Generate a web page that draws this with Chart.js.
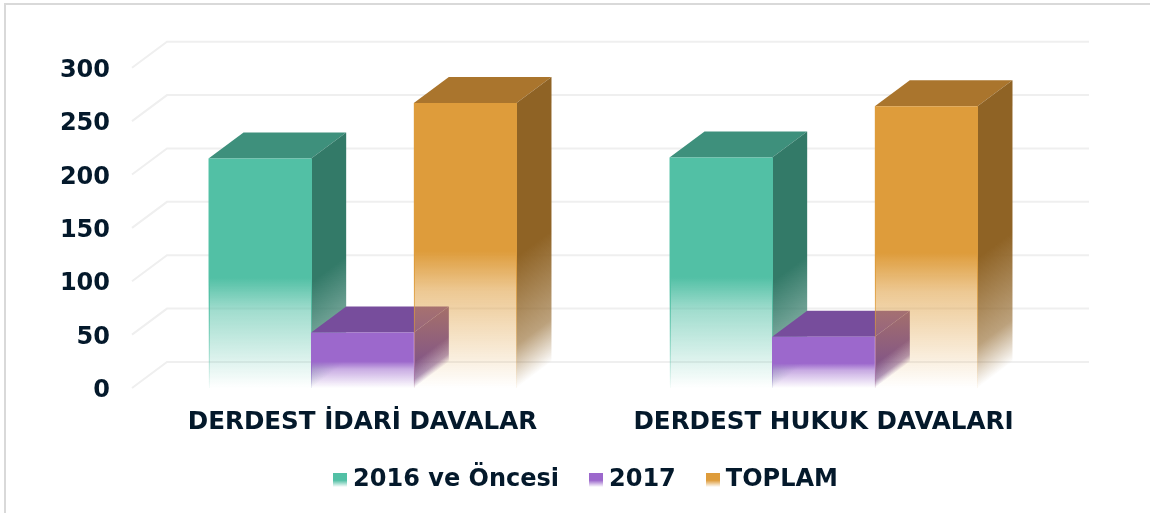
<!DOCTYPE html>
<html>
<head>
<meta charset="utf-8">
<script src="https://cdn.jsdelivr.net/npm/chart.js@4"></script>
<style>
  html, body { margin: 0; padding: 0; background: #fff; }
  #wrap { position: relative; width: 1150px; height: 513px; }
  #frame { position: absolute; left: 4px; top: 3px; width: 1150px; height: 600px; border: 2px solid #d9d9d9; box-sizing: border-box; }
  #clip { position: absolute; left: 0; top: 0; width: 1150px; height: 513px; overflow: hidden; }
  canvas { position: absolute; left: 0; top: 0; }
</style>
</head>
<body>
<div id="wrap">
  <div id="clip"><div id="frame"></div></div>
  <canvas id="barChart" width="1150" height="513"></canvas>
</div>
<script>
const categories = ['DERDEST İDARİ DAVALAR', 'DERDEST HUKUK DAVALARI'];
const seriesNames = ['2016 ve Öncesi', '2017', 'TOPLAM'];
const older = [215, 216];
const y2017 = [52, 48];
const total = [267, 264];

const frontColors = ['82,192,165', '156,104,204', '222,156,59'];
const topColors = ['#3e907c', '#774d9c', '#aa752d'];
const sideColors = ['51,122,104', '117,75,146', '143,99,37'];

const depthX = 35, depthY = 26;
const textColor = '#04192b';

function frontGradient(ctx, i, stops) {
  const y = ctx.chart.scales.y;
  if (!y || ctx.raw === undefined) return 'rgb(' + frontColors[i] + ')';
  const g = ctx.chart.ctx.createLinearGradient(0, y.getPixelForValue(ctx.raw), 0, y.getPixelForValue(0));
  stops.forEach(s => g.addColorStop(s[0], 'rgba(' + frontColors[i] + ',' + s[1] + ')'));
  return g;
}
const fillStops = [[0, 1], [0.52, 1], [0.66, 0.55], [1, 0]];

function swatch(i) {
  const c = document.createElement('canvas');
  c.width = 14; c.height = 14;
  const x = c.getContext('2d');
  const g = x.createLinearGradient(0, 0, 0, 14);
  g.addColorStop(0, 'rgba(' + frontColors[i] + ',1)');
  g.addColorStop(0.52, 'rgba(' + frontColors[i] + ',1)');
  g.addColorStop(1, 'rgba(' + frontColors[i] + ',0)');
  x.fillStyle = g;
  x.fillRect(0, 0, 14, 14);
  return c;
}

// the fake 3d: back wall lines, then the top and side of every bar
const depth3d = {
  id: 'depth3d',
  beforeDatasetsDraw(chart) {
    const { ctx, chartArea: { left, right }, scales: { y } } = chart;
    ctx.save();
    ctx.strokeStyle = '#efefef';
    ctx.lineWidth = 2;
    y.ticks.forEach(t => {
      const py = y.getPixelForValue(t.value);
      ctx.beginPath();
      ctx.moveTo(left, py);
      ctx.lineTo(left + depthX, py - depthY);
      ctx.lineTo(right + depthX, py - depthY);
      ctx.stroke();
    });
    [0, 1, 2].forEach(i => {
      chart.getDatasetMeta(i).data.forEach(bar => {
        const l = bar.x - bar.width / 2, r = bar.x + bar.width / 2;
        ctx.fillStyle = topColors[i];
        ctx.beginPath();
        ctx.moveTo(l, bar.y);
        ctx.lineTo(l + depthX, bar.y - depthY);
        ctx.lineTo(r + depthX, bar.y - depthY);
        ctx.lineTo(r, bar.y);
        ctx.closePath();
        ctx.fill();

        // fade runs along the depth direction, so the edge looks slanted
        const h = bar.base - bar.y;
        const n = Math.hypot(depthX, depthY);
        const len = h * depthX / n;
        const gx = depthY / n * len, gy = depthX / n * len;
        const g = ctx.createLinearGradient(r, bar.y, r + gx, bar.y + gy);
        g.addColorStop(0, 'rgba(' + sideColors[i] + ',1)');
        g.addColorStop(0.54, 'rgba(' + sideColors[i] + ',1)');
        g.addColorStop(0.85, 'rgba(' + sideColors[i] + ',0.6)');
        g.addColorStop(1, 'rgba(' + sideColors[i] + ',0)');
        ctx.fillStyle = g;
        ctx.beginPath();
        ctx.moveTo(r, bar.y);
        ctx.lineTo(r + depthX, bar.y - depthY);
        ctx.lineTo(r + depthX, bar.base - depthY);
        ctx.lineTo(r, bar.base);
        ctx.closePath();
        ctx.fill();
      });
    });
    ctx.restore();
  },
  afterDatasetsDraw(chart) {
    // thin edge down both sides of the front face, stays visible in the faded part
    const { ctx } = chart;
    ctx.save();
    ctx.lineWidth = 1;
    [0, 1, 2].forEach(i => {
      chart.getDatasetMeta(i).data.forEach(bar => {
        const g = ctx.createLinearGradient(0, bar.y, 0, bar.base);
        g.addColorStop(0, 'rgba(' + frontColors[i] + ',1)');
        g.addColorStop(0.55, 'rgba(' + frontColors[i] + ',1)');
        g.addColorStop(1, 'rgba(' + frontColors[i] + ',0.05)');
        ctx.strokeStyle = g;
        [bar.x - bar.width / 2, bar.x + bar.width / 2].forEach(ex => {
          ctx.beginPath();
          ctx.moveTo(Math.round(ex) + 0.5, bar.y);
          ctx.lineTo(Math.round(ex) + 0.5, bar.base);
          ctx.stroke();
        });
      });
    });
    ctx.restore();
  },
  afterLayout(chart) {
    // legend is centred under the plot, not the canvas; wide item gaps come with a big row padding
    chart.legend.left = 123;
    chart.legend.top -= 26;
  }
};

new Chart(document.getElementById('barChart'), {
  type: 'bar',
  data: {
    labels: categories,
    datasets: seriesNames.map((name, i) => ({
      label: name,
      data: [older, y2017, total][i],
      backgroundColor: c => frontGradient(c, i, fillStops)
    }))
  },
  options: {
    responsive: false,
    animation: false,
    categoryPercentage: 0.668,
    barPercentage: 1,
    layout: { padding: { top: 67.7, right: 96, bottom: 11, left: 0 } },
    plugins: {
      tooltip: { enabled: false },
      legend: {
        position: 'bottom',
        maxHeight: 44,
        labels: {
          color: textColor,
          font: { family: 'DejaVu Sans', size: 24, weight: 'bold' },
          usePointStyle: true,
          boxWidth: 2,
          boxHeight: 14,
          padding: 36,
          generateLabels: () => seriesNames.map((n, i) => ({
            text: n, pointStyle: swatch(i), fontColor: textColor, datasetIndex: i,
            lineWidth: 0, strokeStyle: 'transparent'
          }))
        }
      }
    },
    scales: {
      x: {
        grid: { display: false },
        border: { display: false },
        ticks: { color: textColor, font: { family: 'DejaVu Sans', size: 24.6, weight: 'bold' }, padding: 12, maxRotation: 0 },
        afterFit: s => { s.height = 70; }
      },
      y: {
        min: 0,
        max: 300,
        grid: { display: false },
        border: { display: false },
        ticks: { stepSize: 50, color: textColor, font: { family: 'DejaVu Sans', size: 24, weight: 'bold' }, padding: 14, labelOffset: 3 },
        afterFit: s => { s.width = 132; }
      }
    }
  },
  plugins: [depth3d]
});
</script>
</body>
</html>
